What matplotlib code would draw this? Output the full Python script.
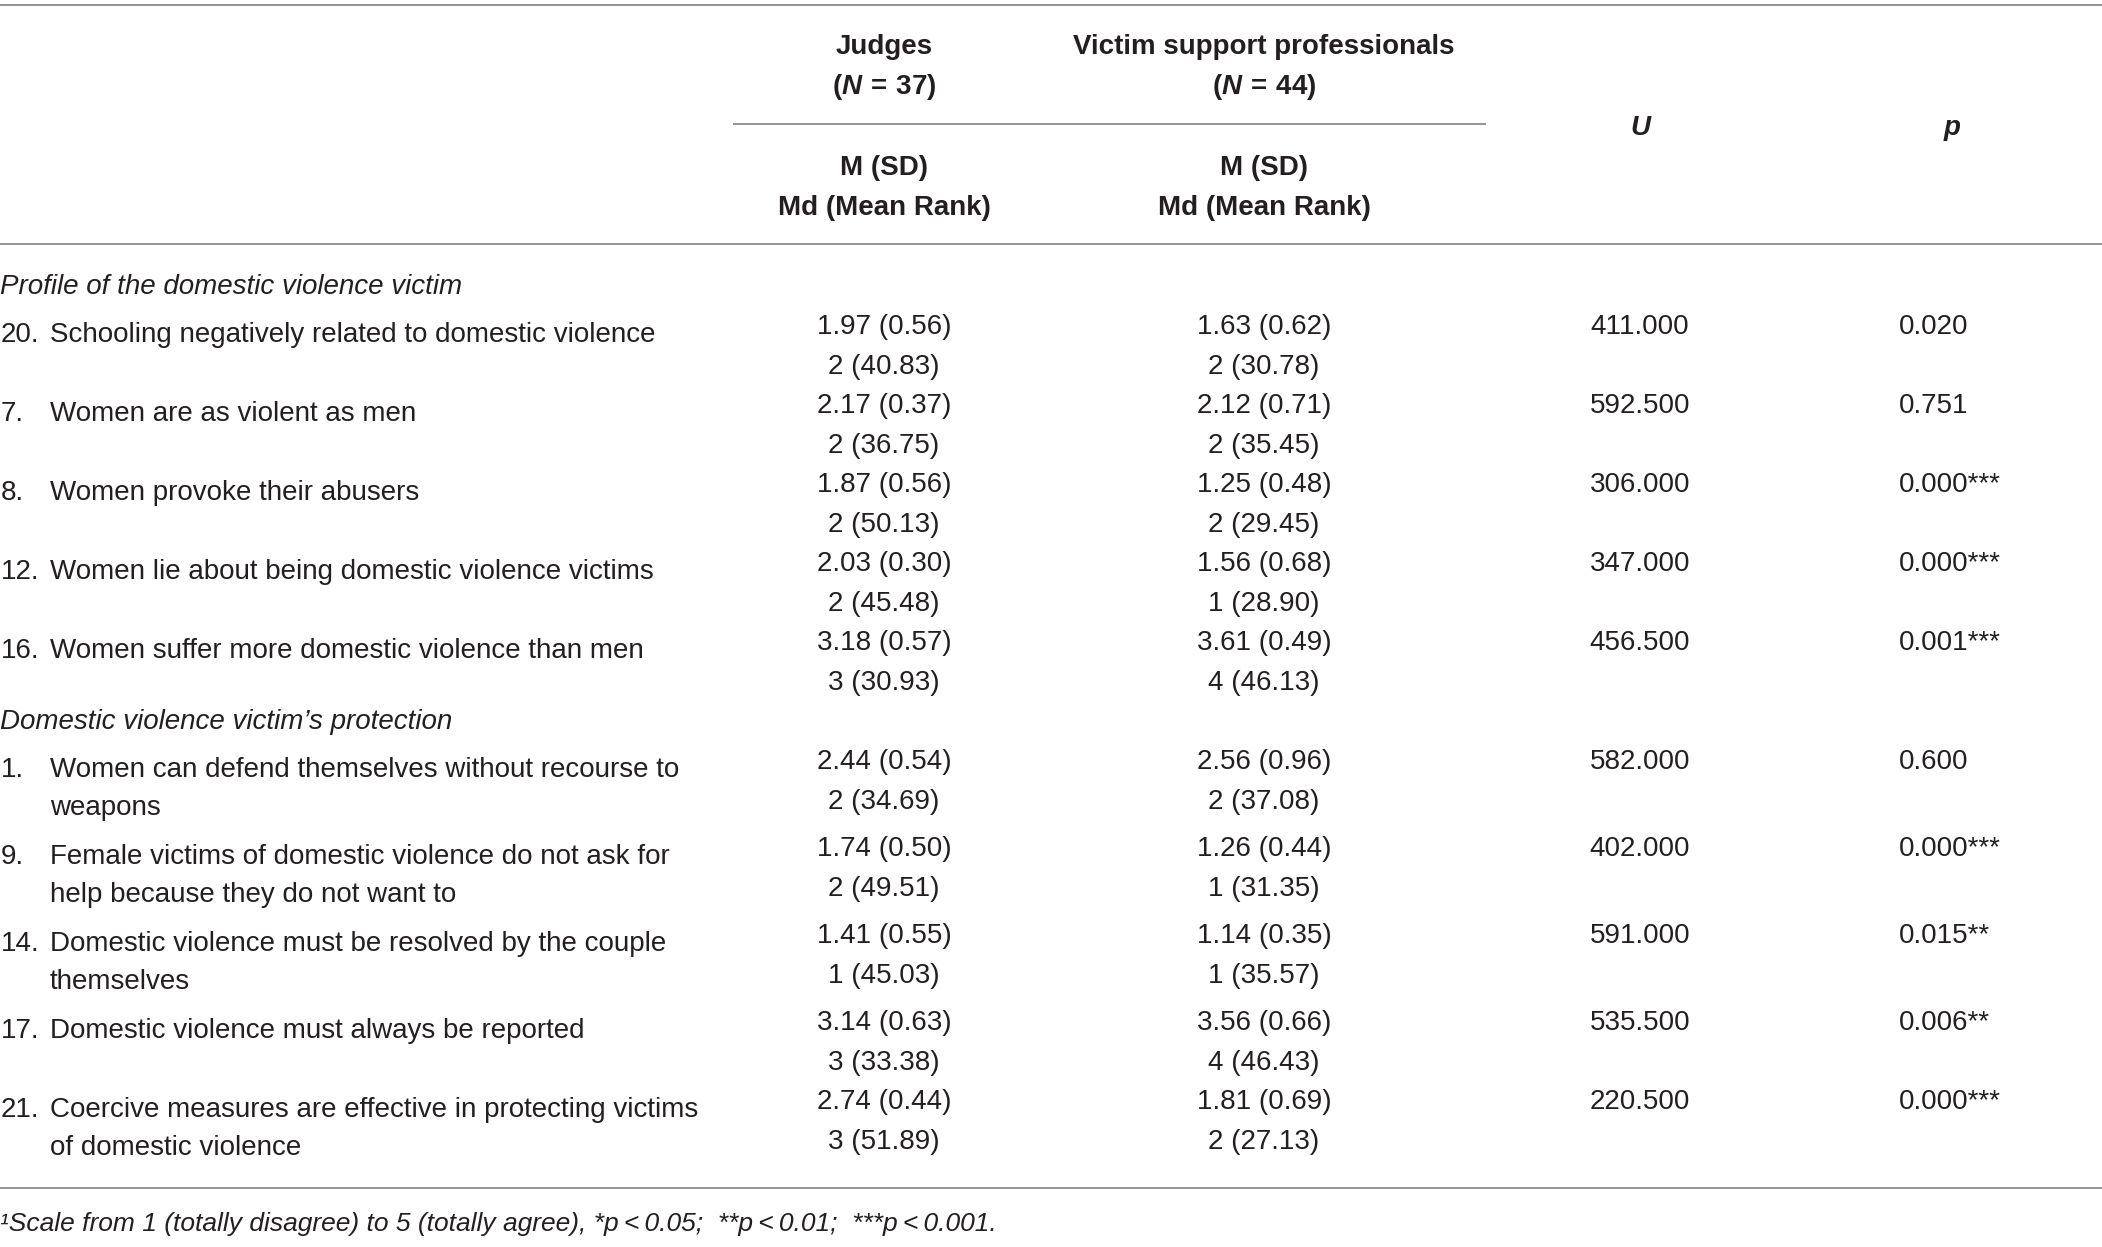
import matplotlib.pyplot as plt

sections = ["Profile of the domestic violence victim", "Domestic violence victim\u2019s protection"]
section_of_item = [0, 0, 0, 0, 0, 1, 1, 1, 1, 1]
item_numbers = ["20.", "7.", "8.", "12.", "16.", "1.", "9.", "14.", "17.", "21."]
item_labels = [
    ["Schooling negatively related to domestic violence"],
    ["Women are as violent as men"],
    ["Women provoke their abusers"],
    ["Women lie about being domestic violence victims"],
    ["Women suffer more domestic violence than men"],
    ["Women can defend themselves without recourse to", "weapons"],
    ["Female victims of domestic violence do not ask for", "help because they do not want to"],
    ["Domestic violence must be resolved by the couple", "themselves"],
    ["Domestic violence must always be reported"],
    ["Coercive measures are effective in protecting victims", "of domestic violence"],
]
judges_mean = [1.97, 2.17, 1.87, 2.03, 3.18, 2.44, 1.74, 1.41, 3.14, 2.74]
judges_sd = [0.56, 0.37, 0.56, 0.30, 0.57, 0.54, 0.50, 0.55, 0.63, 0.44]
judges_md = [2, 2, 2, 2, 3, 2, 2, 1, 3, 3]
judges_rank = [40.83, 36.75, 50.13, 45.48, 30.93, 34.69, 49.51, 45.03, 33.38, 51.89]
victim_mean = [1.63, 2.12, 1.25, 1.56, 3.61, 2.56, 1.26, 1.14, 3.56, 1.81]
victim_sd = [0.62, 0.71, 0.48, 0.68, 0.49, 0.96, 0.44, 0.35, 0.66, 0.69]
victim_md = [2, 2, 2, 1, 4, 2, 1, 1, 4, 2]
victim_rank = [30.78, 35.45, 29.45, 28.90, 46.13, 37.08, 31.35, 35.57, 46.43, 27.13]
u_values = [411.0, 592.5, 306.0, 347.0, 456.5, 582.0, 402.0, 591.0, 535.5, 220.5]
p_values = [0.020, 0.751, 0.000, 0.000, 0.001, 0.600, 0.000, 0.015, 0.006, 0.000]
p_stars = ["", "", "***", "***", "***", "", "***", "**", "**", "***"]
footnote = ("\u00b9Scale from 1 (totally disagree) to 5 (totally agree), "
            "*p\u2009<\u20090.05;  **p\u2009<\u20090.01;  ***p\u2009<\u20090.001.")

W, H = 2102, 1247
FONT = "Liberation Sans"
FS = 20
INK = "#231f20"
RULE = "#8a8a8a"
DY = 3  # small downward nudge so text centres sit like the reference

plt.rcParams["mathtext.fontset"] = "custom"
plt.rcParams["mathtext.rm"] = FONT + ":bold"
plt.rcParams["mathtext.it"] = FONT + ":italic:bold"

fig = plt.figure(figsize=(W / 100, H / 100), dpi=100)
ax = fig.add_axes([0, 0, 1, 1])
ax.set_xlim(0, W)
ax.set_ylim(H, 0)
ax.axis("off")

x_judges, x_victim, x_u, x_p = 884, 1264, 1640, 1899


def txt(x, y, s, ha="left", size=FS, **kw):
    ax.text(x, y + DY, s, ha=ha, va="center", fontsize=size, family=FONT, color=INK, **kw)


# rules
ax.hlines([5, 244, 1188], 0, W, color=RULE, lw=1.3)
ax.hlines(124, 733, 1486, color=RULE, lw=1.3)

# header
txt(x_judges, 44, "Judges", ha="center", weight="bold")
txt(x_judges, 84, r"($N\,=\,$37)", ha="center", weight="bold")
txt(x_victim, 44, "Victim support professionals", ha="center", weight="bold")
txt(x_victim, 84, r"($N\,=\,$44)", ha="center", weight="bold")
for xc in (x_judges, x_victim):
    txt(xc, 165, "M (SD)", ha="center", weight="bold")
    txt(xc, 205, "Md (Mean Rank)", ha="center", weight="bold")
txt(x_u, 125, "U", ha="center", weight="bold", style="italic")
txt(1952, 125, "p", ha="center", weight="bold", style="italic")

# body
y = 284
current = -1
for i in range(len(item_numbers)):
    if section_of_item[i] != current:
        current = section_of_item[i]
        txt(0, y, sections[current], style="italic")
        y += 40
    lines = item_labels[i]
    txt(1, y + 8, item_numbers[i])
    for k, line in enumerate(lines):
        txt(50, y + 8 + 38 * k, line)
    txt(x_judges, y, f"{judges_mean[i]:.2f} ({judges_sd[i]:.2f})", ha="center")
    txt(x_judges, y + 40, f"{judges_md[i]} ({judges_rank[i]:.2f})", ha="center")
    txt(x_victim, y, f"{victim_mean[i]:.2f} ({victim_sd[i]:.2f})", ha="center")
    txt(x_victim, y + 40, f"{victim_md[i]} ({victim_rank[i]:.2f})", ha="center")
    txt(x_u, y, f"{u_values[i]:.3f}", ha="center")
    txt(x_p, y, f"{p_values[i]:.3f}{p_stars[i]}")
    y += 87 if len(lines) > 1 else 79

txt(0, 1221, footnote, size=FS - 1, style="italic")

fig.savefig("out.png", dpi=100)
